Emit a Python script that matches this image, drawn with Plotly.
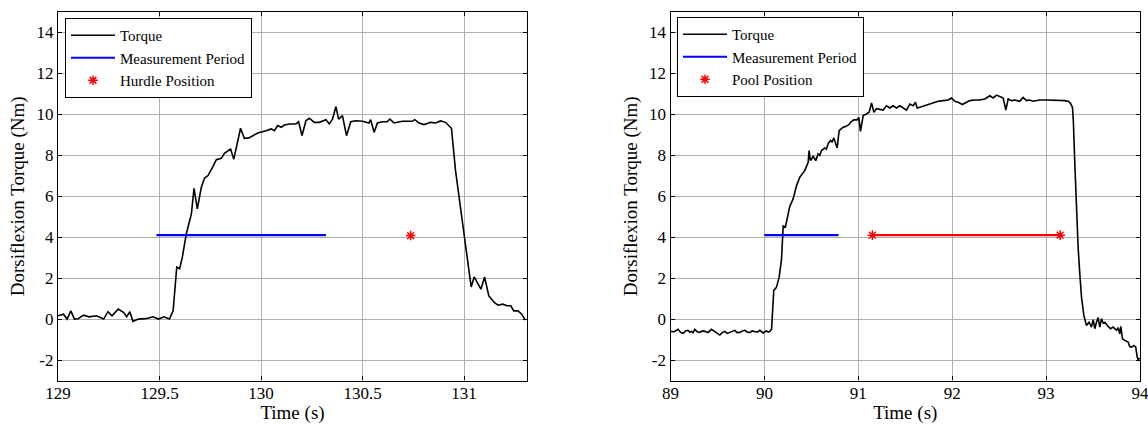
import plotly.graph_objects as go

# ---------------- data ----------------
hurdle_time = [129.000, 129.027, 129.045, 129.063, 129.081, 129.099, 129.126, 129.153, 129.189, 129.225,
               129.246, 129.266, 129.297, 129.324, 129.338, 129.354, 129.369, 129.396, 129.432, 129.468,
               129.495, 129.522, 129.549, 129.567, 129.585, 129.599, 129.612, 129.632, 129.657, 129.670,
               129.686, 129.706, 129.722, 129.739, 129.763, 129.780, 129.804, 129.820, 129.850, 129.866,
               129.899, 129.918, 129.940, 129.959, 129.984, 130.025, 130.050, 130.066, 130.082, 130.099,
               130.115, 130.140, 130.172, 130.185, 130.202, 130.221, 130.238, 130.262, 130.287, 130.320,
               130.336, 130.352, 130.369, 130.382, 130.401, 130.421, 130.442, 130.467, 130.500, 130.532,
               130.540, 130.557, 130.573, 130.598, 130.622, 130.634, 130.655, 130.696, 130.745, 130.757,
               130.778, 130.803, 130.835, 130.860, 130.884, 130.909, 130.938, 130.958, 130.975, 131.000,
               131.020, 131.035, 131.050, 131.083, 131.101, 131.122, 131.149, 131.167, 131.191, 131.212,
               131.230, 131.245, 131.266, 131.284, 131.302]
hurdle_torque = [0.16, 0.24, 0.00, 0.40, 0.00, 0.02, 0.19, 0.11, 0.16, 0.00,
                 0.36, 0.16, 0.49, 0.32, 0.11, 0.36, -0.11, 0.00, 0.02, 0.11,
                 0.00, 0.11, 0.00, 0.40, 2.54, 2.46, 3.00, 4.17, 5.14, 6.39,
                 5.38, 6.44, 6.89, 7.01, 7.45, 7.79, 7.85, 8.10, 8.31, 7.81,
                 9.32, 8.83, 8.85, 8.96, 9.09, 9.20, 9.29, 9.20, 9.45, 9.37,
                 9.48, 9.53, 9.53, 9.64, 8.96, 9.69, 9.81, 9.61, 9.61, 9.74,
                 9.53, 9.77, 10.38, 9.77, 9.94, 8.96, 9.64, 9.69, 9.66, 9.58,
                 9.74, 9.12, 9.58, 9.64, 9.64, 9.77, 9.58, 9.66, 9.66, 9.74,
                 9.58, 9.50, 9.61, 9.58, 9.68, 9.61, 9.32, 7.25, 5.95, 4.20,
                 2.50, 1.57, 2.06, 1.46, 2.06, 1.13, 0.81, 0.68, 0.73, 0.65,
                 0.65, 0.40, 0.40, 0.24, -0.05]
hurdle_meas_time = [129.485, 130.32]
hurdle_meas_level = [4.1, 4.1]
hurdle_pos_time = [130.737]
hurdle_pos_level = [4.08]

pool_time = [89.000, 89.040, 89.080, 89.110, 89.135, 89.160, 89.188, 89.205, 89.223, 89.240,
             89.259, 89.285, 89.312, 89.340, 89.365, 89.400, 89.436, 89.465, 89.490, 89.525,
             89.550, 89.578, 89.605, 89.632, 89.660, 89.685, 89.710, 89.738, 89.765, 89.791,
             89.820, 89.845, 89.870, 89.898, 89.925, 89.951, 89.987, 90.005, 90.022, 90.040,
             90.058, 90.076, 90.100, 90.128, 90.157, 90.182, 90.200, 90.224, 90.250, 90.270,
             90.306, 90.342, 90.377, 90.430, 90.466, 90.476, 90.490, 90.500, 90.519, 90.547,
             90.572, 90.590, 90.608, 90.643, 90.660, 90.678, 90.704, 90.720, 90.739, 90.775,
             90.796, 90.820, 90.838, 90.860, 90.880, 90.900, 90.917, 90.952, 90.987, 91.005,
             91.023, 91.052, 91.087, 91.116, 91.141, 91.166, 91.194, 91.229, 91.265, 91.300,
             91.336, 91.371, 91.407, 91.442, 91.478, 91.513, 91.549, 91.584, 91.609, 91.627,
             91.673, 91.726, 91.797, 91.850, 91.904, 91.957, 91.992, 92.028, 92.063, 92.109,
             92.152, 92.188, 92.241, 92.294, 92.347, 92.401, 92.436, 92.472, 92.514, 92.543,
             92.571, 92.596, 92.631, 92.667, 92.720, 92.755, 92.791, 92.826, 92.862, 92.897,
             92.933, 93.004, 93.075, 93.146, 93.200, 93.235, 93.260, 93.281, 93.290, 93.306,
             93.324, 93.341, 93.359, 93.377, 93.402, 93.430, 93.458, 93.483, 93.501, 93.519,
             93.536, 93.554, 93.572, 93.590, 93.607, 93.625, 93.661, 93.686, 93.714, 93.750,
             93.767, 93.785, 93.796, 93.813, 93.838, 93.874, 93.891, 93.909, 93.934, 93.955,
             93.970, 93.980, 93.998]
pool_torque = [-0.60, -0.62, -0.50, -0.66, -0.70, -0.58, -0.55, -0.64, -0.60, -0.66,
               -0.50, -0.62, -0.65, -0.58, -0.60, -0.66, -0.50, -0.60, -0.65, -0.78,
               -0.66, -0.60, -0.70, -0.65, -0.58, -0.55, -0.66, -0.65, -0.58, -0.55,
               -0.64, -0.65, -0.58, -0.60, -0.64, -0.55, -0.68, -0.62, -0.58, -0.64,
               -0.60, -0.50, 1.40, 1.55, 2.05, 2.90, 4.55, 4.50, 5.00, 5.50,
               5.87, 6.52, 6.93, 7.25, 7.66, 8.23, 7.75, 7.80, 7.95, 7.74,
               8.07, 8.00, 8.23, 8.36, 8.30, 8.56, 8.72, 8.65, 8.85, 8.36,
               9.20, 9.30, 9.37, 9.40, 9.45, 9.50, 9.61, 9.73, 9.73, 9.85,
               9.17, 9.94, 10.02, 10.10, 10.56, 10.10, 10.28, 10.26, 10.21, 10.42,
               10.31, 10.42, 10.31, 10.42, 10.31, 10.21, 10.50, 10.42, 10.59, 10.31,
               10.37, 10.45, 10.55, 10.64, 10.67, 10.70, 10.80, 10.64, 10.59, 10.48,
               10.59, 10.67, 10.70, 10.70, 10.75, 10.91, 10.80, 10.94, 10.86, 10.80,
               10.21, 10.75, 10.67, 10.70, 10.64, 10.83, 10.67, 10.70, 10.64, 10.67,
               10.70, 10.70, 10.70, 10.70, 10.67, 10.64, 10.54, 10.34, 9.69, 7.58,
               5.14, 3.51, 2.21, 1.07, 0.18, -0.31, -0.15, -0.39, -0.03, -0.47,
               -0.15, 0.07, -0.39, 0.02, -0.19, -0.15, -0.36, -0.47, -0.39, -0.55,
               -0.42, -0.72, -0.36, -0.96, -1.04, -1.12, -1.34, -1.37, -1.29, -1.37,
               -1.86, -1.98, -1.90]
pool_meas_time = [90.0, 90.79]
pool_meas_level = [4.1, 4.1]
pool_pos_time = [91.15, 93.15]
pool_pos_level = [4.1, 4.1]

y_tick_vals = [-2, 0, 2, 4, 6, 8, 10, 12, 14]
y_tick_text = ["-2", "0", "2", "4", "6", "8", "10", "12", "14"]
hurdle_x_ticks = [129, 129.5, 130, 130.5, 131]
hurdle_x_text = ["129", "129.5", "130", "130.5", "131"]
pool_x_ticks = [89, 90, 91, 92, 93, 94]
pool_x_text = ["89", "90", "91", "92", "93", "94"]

# ---------------- figure ----------------
W, H = 1148, 424
FONT = "Liberation Serif"


def fx(px):
    return px / W


def fy(py):
    return 1 - py / H


fig = go.Figure()


def add_panel(t, v, mt, ml, pt, pl, pos_name, xa, ya, leg, pos_line):
    fig.add_trace(go.Scatter(x=t, y=v, mode="lines", name="Torque",
                             line=dict(color="black", width=1.6),
                             xaxis=xa, yaxis=ya, legend=leg))
    fig.add_trace(go.Scatter(x=mt, y=ml, mode="lines", name="Measurement Period",
                             line=dict(color="#0000ff", width=2.2),
                             xaxis=xa, yaxis=ya, legend=leg))
    if pos_line:
        fig.add_trace(go.Scatter(x=pt, y=pl, mode="lines", showlegend=False,
                                 line=dict(color="#ff0000", width=2.2),
                                 xaxis=xa, yaxis=ya, legend=leg))
    fig.add_trace(go.Scatter(x=pt, y=pl, mode="markers", name=pos_name,
                             marker=dict(symbol="asterisk-open", size=8, color="#ff0000",
                                         line=dict(color="#ff0000", width=1.5)),
                             xaxis=xa, yaxis=ya, legend=leg))


add_panel(hurdle_time, hurdle_torque, hurdle_meas_time, hurdle_meas_level,
          hurdle_pos_time, hurdle_pos_level, "Hurdle Position", "x", "y", "legend", False)
add_panel(pool_time, pool_torque, pool_meas_time, pool_meas_level,
          pool_pos_time, pool_pos_level, "Pool Position", "x2", "y2", "legend2", True)

ydom = [fy(380.5), fy(12)]
common_axis = dict(showline=True, linecolor="black", linewidth=1.2, mirror="ticks",
                   ticks="inside", ticklen=4, tickcolor="black", automargin=False,
                   ticklabeloverflow="allow",
                   showgrid=True, gridcolor="#b0b0b0", gridwidth=1, zeroline=False,
                   tickfont=dict(family=FONT, size=17, color="black"))

xcommon = dict(common_axis, ticklabelstandoff=-3,
               title=dict(text="Time (s)", font=dict(family=FONT, size=19, color="black"),
                          standoff=4))
ycommon = dict(common_axis, range=[-3, 15], tickvals=y_tick_vals, ticktext=y_tick_text,
               title=dict(text="Dorsiflexion Torque (Nm)", font=dict(family=FONT, size=19, color="black"),
                          standoff=6))

legend_common = dict(bgcolor="white", bordercolor="black", borderwidth=1,
                     font=dict(family=FONT, size=15, color="black"),
                     xanchor="left", yanchor="top", tracegroupgap=0, itemwidth=44)

fig.update_layout(
    width=W, height=H,
    margin=dict(l=0, r=0, t=0, b=0, autoexpand=False),
    paper_bgcolor="white", plot_bgcolor="white",
    font=dict(family=FONT, color="black"),
    xaxis=dict(xcommon, domain=[fx(58), fx(527)], range=[129, 131.31],
               tickvals=hurdle_x_ticks, ticktext=hurdle_x_text, anchor="y"),
    yaxis=dict(ycommon, domain=ydom, anchor="x"),
    xaxis2=dict(xcommon, domain=[fx(670.5), fx(1140)], range=[89, 94],
                tickvals=pool_x_ticks, ticktext=pool_x_text, anchor="y2"),
    yaxis2=dict(ycommon, domain=ydom, anchor="x2"),
    legend=dict(legend_common, x=fx(65), y=fy(18)),
    legend2=dict(legend_common, x=fx(677), y=fy(17)),
)

# the figure fills the whole window: drop the page's default body margin
fig.write_html("out.html",
               config={"displayModeBar": False},
               post_script="document.body.style.margin='0';document.body.style.overflow='hidden';")
